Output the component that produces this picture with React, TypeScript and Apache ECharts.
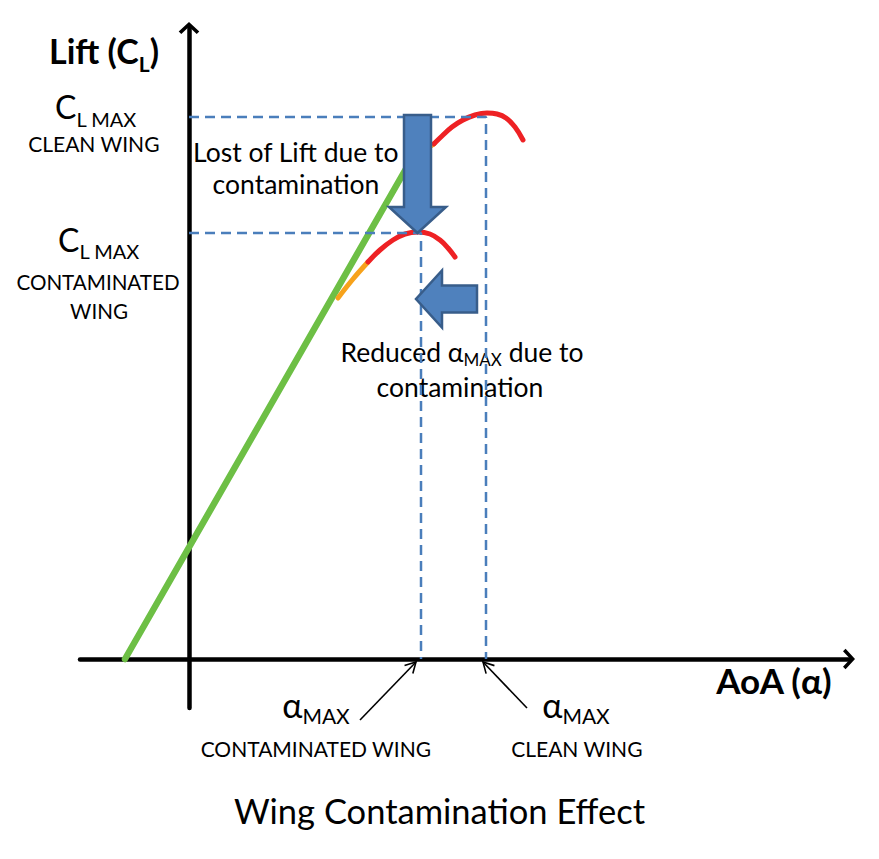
import React, { useEffect, useRef } from "react";
import * as echarts from "echarts";

const WIDTH = 879;
const HEIGHT = 859;
const FONT = "Lato, 'Open Sans', sans-serif";

// Angle of attack (deg) against lift coefficient CL
const linearLift: [number, number][] = [[-3.2, 0], [11.1, 1.2475]];
const cleanOnset: [number, number][] = [[11.1, 1.2475], [11.7, 1.27], [12.25, 1.288]];
const cleanStall: [number, number][] = [
  [12.25, 1.288], [12.65, 1.3075], [13.15, 1.33], [13.7, 1.3475], [14.3, 1.36],
  [14.9, 1.365], [15.4, 1.3625], [15.85, 1.3525], [16.3, 1.33], [16.7, 1.2975],
];
const contamOnset: [number, number][] = [[7.45, 0.9025], [8.2, 0.95], [8.95, 0.9925]];
const contamStall: [number, number][] = [
  [8.95, 0.9925], [9.55, 1.0225], [10.2, 1.0475], [10.8, 1.0625], [11.45, 1.0675],
  [12.05, 1.0625], [12.55, 1.0475], [12.95, 1.0275], [13.3, 1.005],
];

const CL_MAX_CLEAN = 1.355;
const CL_MAX_CONTAM = 1.065;
const ALPHA_MAX_CLEAN = 14.85;
const ALPHA_MAX_CONTAM = 11.6;

// Block arrows: [fromAlpha, fromCL, toAlpha, toCL]
const blockArrows: number[][] = [
  [11.425, 1.36, 11.425, CL_MAX_CONTAM],
  [14.4, 0.9, 11.35, 0.9],
];
// Thin pointers from the alpha labels to the axis
const pointerArrows: number[][] = [
  [8.55, -0.1525, 11.35, -0.0075],
  [16.9, -0.1225, 14.7, -0.0075],
];

const CAPTION = "Wing Contamination Effect";
const LIFT_NAME = ["Lift (C", "L", ")"];
const AOA_NAME = "AoA (α)";
const CL_MAX = ["C", "L MAX"];
const ALPHA_MAX = ["α", "MAX"];
const CLEAN_WING = "CLEAN WING";
const CONTAMINATED = "CONTAMINATED";
const WING = "WING";
const CONTAMINATED_WING = "CONTAMINATED WING";
const LOST_LIFT = ["Lost of Lift due to", "contamination"];
const REDUCED_ALPHA = ["Reduced ", "α", "MAX", " due to", "contamination"];

const ARROW_HEAD = "path://M12,0 L24,11 L21,14 L12,5.5 L3,14 L0,11 Z";

type Piece = { text: string; size: number; bold?: boolean; drop?: number };

export default function App() {
  const ref = useRef<HTMLDivElement>(null);

  useEffect(() => {
    document.body.style.margin = "0";
    const chart = echarts.init(ref.current!, null, { renderer: "svg" });
    const ctx = document.createElement("canvas").getContext("2d")!;
    const measure = (text: string, p: Piece) => {
      ctx.font = `${p.bold ? "bold " : ""}${p.size}px ${FONT}`;
      return ctx.measureText(text).width;
    };
    // Lays out a run of text pieces (with subscripts) centred on cx, on a shared baseline
    const line = (pieces: Piece[], cx: number, baseline: number) => {
      const widths = pieces.map((p) => measure(p.text, p));
      const total = widths.reduce((a, b) => a + b, 0);
      let x = cx - total / 2;
      return pieces.map((p, i) => {
        const trimmed = p.text.trimStart();
        const lead = measure(p.text.slice(0, p.text.length - trimmed.length), p);
        const el = {
          type: "text",
          x: x + lead,
          y: baseline + (p.drop || 0) - 0.385 * p.size,
          silent: true,
          style: {
            text: trimmed.trimEnd(),
            fontSize: p.size,
            fontWeight: p.bold ? "bold" : "normal",
            fontFamily: FONT,
            fill: "#000",
            align: "left",
            verticalAlign: "middle",
          },
        };
        x += widths[i];
        return el;
      });
    };

    const texts = [
      ...line([
        { text: LIFT_NAME[0], size: 34, bold: true },
        { text: LIFT_NAME[1], size: 21, bold: true, drop: 8 },
        { text: LIFT_NAME[2], size: 34, bold: true },
      ], 104, 64),
      ...line([{ text: CL_MAX[0], size: 32 }, { text: CL_MAX[1], size: 20, drop: 8 }], 96, 119),
      ...line([{ text: CLEAN_WING, size: 21 }], 94, 152),
      ...line([{ text: CL_MAX[0], size: 32 }, { text: CL_MAX[1], size: 20, drop: 7 }], 99, 252),
      ...line([{ text: CONTAMINATED, size: 20.6 }], 98, 290),
      ...line([{ text: WING, size: 20.6 }], 99, 319),
      ...line([{ text: LOST_LIFT[0], size: 26.5 }], 296, 162),
      ...line([{ text: LOST_LIFT[1], size: 26.5 }], 296, 194),
      ...line([
        { text: REDUCED_ALPHA[0], size: 26.5 },
        { text: REDUCED_ALPHA[1], size: 26.5 },
        { text: REDUCED_ALPHA[2], size: 17, drop: 4 },
        { text: REDUCED_ALPHA[3], size: 26.5 },
      ], 462, 362),
      ...line([{ text: REDUCED_ALPHA[4], size: 26.5 }], 460, 397),
      ...line([{ text: AOA_NAME, size: 35, bold: true }], 774, 693),
      ...line([{ text: ALPHA_MAX[0], size: 34 }, { text: ALPHA_MAX[1], size: 21, drop: 6 }], 316, 718),
      ...line([{ text: CONTAMINATED_WING, size: 21 }], 316, 757),
      ...line([{ text: ALPHA_MAX[0], size: 34 }, { text: ALPHA_MAX[1], size: 21, drop: 6 }], 576, 718),
      ...line([{ text: CLEAN_WING, size: 21 }], 577, 757),
    ];

    const curve = (data: [number, number][], color: string, width: number, smooth: number | boolean, z: number) => ({
      type: "line",
      data,
      smooth,
      symbol: "none",
      silent: true,
      z,
      lineStyle: { color, width, cap: "round" },
    });
    const dashed = (alpha: number, cl: number) => ({
      type: "line",
      data: [[0, cl], [alpha, cl], [alpha, 0]],
      symbol: "none",
      silent: true,
      z: 3,
      lineStyle: { color: "#4a7ebb", width: 2.5, type: [10, 6] },
    });

    const axisCommon = {
      type: "value",
      axisTick: { show: false },
      axisLabel: { show: false },
      splitLine: { show: false },
      axisLine: {
        onZero: true,
        lineStyle: { color: "#000", width: 4.5 },
        symbol: ["none", ARROW_HEAD],
        symbolSize: [21, 12],
      },
    };

    chart.setOption({
      animation: false,
      title: {
        text: CAPTION,
        left: "center",
        top: 793,
        padding: 0,
        textStyle: { fontFamily: FONT, fontSize: 34.5, fontWeight: "normal", color: "#000" },
      },
      grid: { left: 80, right: 30, top: 28, bottom: 151 },
      xAxis: { ...axisCommon, min: -5.45, max: 33 },
      yAxis: { ...axisCommon, min: -0.1225, max: 1.5775 },
      graphic: texts,
      series: [
        curve(linearLift, "#6dbf45", 6.5, false, 2),
        curve(cleanOnset, "#f7a21b", 5, 0.4, 2),
        curve(cleanStall, "#ee2124", 5, 0.4, 2),
        curve(contamOnset, "#f7a21b", 5, 0.4, 2),
        curve(contamStall, "#ee2124", 5, 0.4, 2),
        dashed(ALPHA_MAX_CLEAN, CL_MAX_CLEAN),
        dashed(ALPHA_MAX_CONTAM, CL_MAX_CONTAM),
        {
          type: "custom",
          silent: true,
          z: 5,
          data: blockArrows,
          renderItem: (_p: any, api: any) => {
            const a = api.coord([api.value(0), api.value(1)]);
            const b = api.coord([api.value(2), api.value(3)]);
            const shaft = 27, head = 57, headLen = 26;
            const dx = b[0] - a[0], dy = b[1] - a[1];
            const len = Math.hypot(dx, dy);
            const ux = dx / len, uy = dy / len, nx = -uy, ny = ux;
            const hb = [b[0] - ux * headLen, b[1] - uy * headLen];
            const off = (p: number[], k: number) => [p[0] + nx * k, p[1] + ny * k];
            return {
              type: "polygon",
              shape: {
                points: [
                  off(a, shaft / 2), off(hb, shaft / 2), off(hb, head / 2), b,
                  off(hb, -head / 2), off(hb, -shaft / 2), off(a, -shaft / 2),
                ],
              },
              style: { fill: "#4f81bd", stroke: "#385d8a", lineWidth: 2.5 },
            };
          },
        },
        {
          type: "custom",
          silent: true,
          z: 5,
          data: pointerArrows,
          renderItem: (_p: any, api: any) => {
            const a = api.coord([api.value(0), api.value(1)]);
            const b = api.coord([api.value(2), api.value(3)]);
            const dx = b[0] - a[0], dy = b[1] - a[1];
            const len = Math.hypot(dx, dy);
            const bx = -dx / len, by = -dy / len;
            const arm = (ang: number) => {
              const c = Math.cos(ang), s = Math.sin(ang);
              return [b[0] + 12 * (bx * c - by * s), b[1] + 12 * (bx * s + by * c)];
            };
            const stroke = { stroke: "#000", lineWidth: 1.6, fill: null };
            return {
              type: "group",
              children: [
                { type: "line", shape: { x1: a[0], y1: a[1], x2: b[0], y2: b[1] }, style: stroke },
                { type: "polyline", shape: { points: [arm(0.5), b, arm(-0.5)] }, style: stroke },
              ],
            };
          },
        },
      ],
    });

    return () => chart.dispose();
  }, []);

  return <div ref={ref} style={{ width: WIDTH, height: HEIGHT }} />;
}
